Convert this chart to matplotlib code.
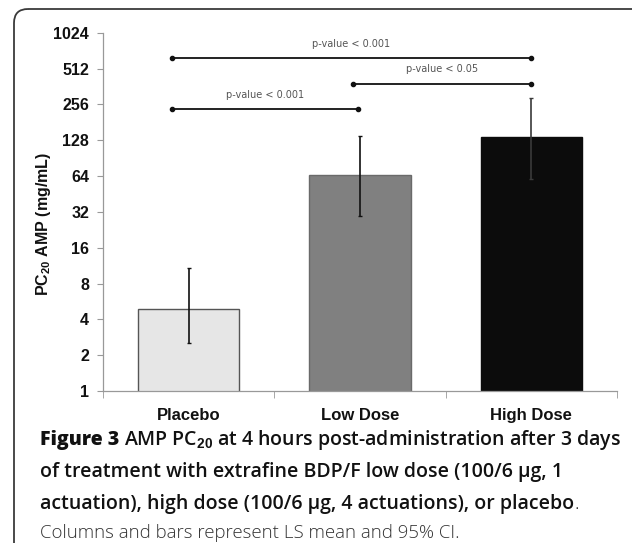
#!/usr/bin/env python3
# -*- coding: utf-8 -*-
"""
AMP PC20 by treatment group (log2 scale bar chart with 95% CI and p-value brackets).
"""
import matplotlib
matplotlib.use('Agg')
import matplotlib.pyplot as plt
from matplotlib.patches import FancyBboxPatch

plt.rcParams['mathtext.fontset'] = 'custom'
plt.rcParams['mathtext.rm'] = 'Liberation Sans:bold'
plt.rcParams['mathtext.it'] = 'Liberation Sans:bold'
plt.rcParams['mathtext.bf'] = 'Liberation Sans:bold'

# --- data ---
groups = ['Placebo', 'Low Dose', 'High Dose']
ls_mean = [4.9, 65.0, 136.0]
ci_low = [2.55, 29.5, 61.0]
ci_high = [10.9, 140.0, 290.0]
bar_colors = ['#e6e6e6', '#808080', '#0c0c0c']
edge_colors = ['#555555', '#6a6a6a', '#0c0c0c']
err_colors = ['#111111', '#111111', '#3a3a3a']

y_ticks = [1, 2, 4, 8, 16, 32, 64, 128, 256, 512, 1024]

# brackets: (from group, to group, height, label)
brackets = [
    (0, 2, 626, 'p-value < 0.001'),
    (1, 2, 382, 'p-value < 0.05'),
    (0, 1, 234, 'p-value < 0.001'),
]

W, H = 632, 543
fig = plt.figure(figsize=(W / 100, H / 100), dpi=100)
fig.patch.set_facecolor('white')

# frame of the figure panel (pixel coords)
bg = fig.add_axes([0, 0, 1, 1])
bg.set_xlim(0, W); bg.set_ylim(H, 0)
bg.axis('off')
frame = FancyBboxPatch((14, 9), W + 40, H + 40,
                       boxstyle='round,pad=0,rounding_size=14',
                       facecolor='none', edgecolor='#3a3a3a', lw=1.3)
bg.add_patch(frame)

ax = fig.add_axes([103 / W, 1 - 391 / H, 514 / W, (391 - 32.7) / H])
ax.set_facecolor('none')
x = list(range(len(groups)))
ax.bar(x, ls_mean, width=0.59, color=bar_colors, edgecolor=edge_colors,
       linewidth=1.0, zorder=2)
for i in x:
    ax.errorbar([i], [ls_mean[i]],
                yerr=[[ls_mean[i] - ci_low[i]], [ci_high[i] - ls_mean[i]]],
                fmt='none', ecolor=err_colors[i], elinewidth=1.2,
                capsize=1.5, capthick=1.0, zorder=3)

ax.set_yscale('log', base=2)
ax.set_ylim(1, 1024)
ax.set_xlim(-0.5, 2.5)
ax.set_yticks(y_ticks)
ax.set_yticklabels([str(t) for t in y_ticks])
ax.minorticks_off()
ax.set_xticks(x)
ax.set_xticklabels(groups)
ax.set_xticks([-0.5, 0.5, 1.5, 2.5], minor=True)
ax.tick_params(axis='x', which='major', length=0, pad=12)
ax.tick_params(axis='x', which='minor', length=5, color='#999999', direction='out')
ax.tick_params(axis='y', length=4, color='#999999', pad=6)
for lab in ax.get_yticklabels():
    lab.set_fontfamily('Liberation Sans')
    lab.set_fontweight('bold')
    lab.set_fontsize(11.5)
    lab.set_color('#111111')
for lab in ax.get_xticklabels():
    lab.set_fontfamily('Liberation Sans')
    lab.set_fontweight('bold')
    lab.set_fontsize(12)
    lab.set_color('#111111')
for s in ['top', 'right']:
    ax.spines[s].set_visible(False)
for s in ['left', 'bottom']:
    ax.spines[s].set_color('#999999')
    ax.spines[s].set_linewidth(0.9)

ax.set_ylabel('PC$_{20}$ AMP (mg/mL)', fontfamily='Liberation Sans',
              fontweight='bold', fontsize=11.5, color='#111111')
ax.yaxis.set_label_coords(-0.097, 0.466)

# significance brackets
for g1, g2, yb, txt in brackets:
    x1 = g1 - 0.1 if g1 == 0 else g1 - 0.04
    x2 = g2
    if g2 == 1:
        x2 = g2 - 0.01
    ax.plot([x1, x2], [yb, yb], color='#111111', lw=1.3, marker='o',
            markersize=3, zorder=4, clip_on=False)
    ax.text((x1 + x2) / 2, yb * 1.2, txt, ha='center', va='bottom',
            fontsize=7, color='#555555', fontfamily='DejaVu Sans')

# caption
cap_font = 'Open Sans'
cap_size = 14
renderer = fig.canvas.get_renderer()


def run(xp, yp, s, **kw):
    t = bg.text(xp, yp, s, fontfamily=cap_font, va='center', ha='left',
                color='#111111', **kw)
    bb = t.get_window_extent(renderer=renderer)
    return xp + bb.width


xp = run(40, 440, 'Figure 3 ', fontsize=cap_size, fontweight='heavy')
run(xp, 440, 'AMP PC$_{20}$ at 4 hours post-administration after 3 days',
    fontsize=cap_size, fontweight='semibold')
run(40, 472, 'of treatment with extrafine BDP/F low dose (100/6 \u00b5g, 1',
    fontsize=cap_size, fontweight='semibold')
xp = run(40, 504, 'actuation), high dose (100/6 \u00b5g, 4 actuations), or placebo',
         fontsize=cap_size, fontweight='semibold')
run(xp, 504, '.', fontsize=cap_size, fontweight='light')
bg.text(40, 533, 'Columns and bars represent LS mean and 95% CI.',
        fontsize=13.4, fontweight='light', fontfamily=cap_font,
        va='center', ha='left', color='#333333')

fig.savefig('out.png', dpi=100, facecolor='white')
